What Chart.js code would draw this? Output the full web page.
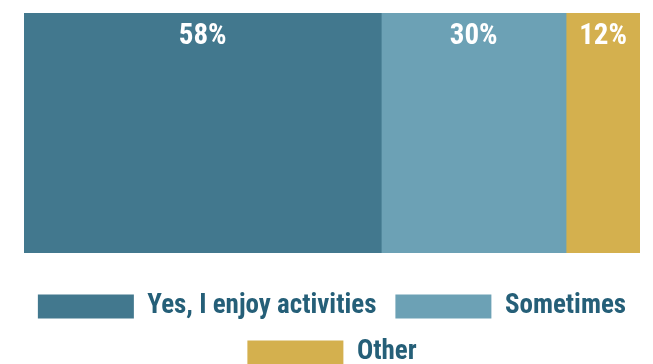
<!DOCTYPE html>
<html>
<head>
<meta charset="utf-8">
<script src="https://cdn.jsdelivr.net/npm/chart.js@4"></script>
<style>
  html, body { margin: 0; padding: 0; background: #fff; }
  #wrap { width: 653px; height: 364px; }
</style>
</head>
<body>
<div id="wrap"><canvas id="enjoyChart"></canvas></div>
<script>
// survey answers, share of respondents in percent
const categories = ['Responses'];
const answers = ['Yes, I enjoy activities', 'Sometimes', 'Other'];
const shares = [58, 30, 12];
const colors = ['#42788e', '#6ca1b5', '#d4b04e'];

const FONT = "'Roboto Condensed', Roboto, sans-serif";

// blank axis that only reserves some room
const spacer = (size, extra) => Object.assign({
    grid: { display: false },
    border: { display: false },
    ticks: { display: false },
    afterFit(scale) {
        if (scale.isHorizontal()) scale.height = size;
        else scale.width = size;
    }
}, extra);

// writes the percentage at the top of each segment
const valueLabels = {
    id: 'valueLabels',
    afterDatasetsDraw(chart) {
        const ctx = chart.ctx;
        ctx.save();
        ctx.fillStyle = '#ffffff';
        ctx.font = `bold 29px ${FONT}`;
        ctx.textAlign = 'center';
        ctx.textBaseline = 'middle';
        chart.data.datasets.forEach((ds, i) => {
            const bar = chart.getDatasetMeta(i).data[0];
            const { x, base } = bar.getProps(['x', 'base'], true);
            ctx.fillText(ds.data[0] + '%', (x + base) / 2, chart.chartArea.top + 24);
        });
        ctx.restore();
    }
};

const ctx = document.getElementById('enjoyChart').getContext('2d');
new Chart(ctx, {
    type: 'bar',
    data: {
        labels: categories,
        datasets: answers.map((name, i) => ({
            label: name,
            data: [shares[i]],
            backgroundColor: colors[i],
            borderWidth: 0,
            barPercentage: 1,
            categoryPercentage: 1
        }))
    },
    options: {
        indexAxis: 'y',
        responsive: true,
        maintainAspectRatio: false,
        animation: false,
        layout: { padding: { left: 14, right: 3, top: 13, bottom: -12 } },
        scales: {
            x: spacer(21, { stacked: true, min: 0, max: 100 }),
            y: spacer(10, { stacked: true }),
            yRight: spacer(10, { type: 'category', position: 'right' })
        },
        plugins: {
            tooltip: { enabled: false },
            legend: {
                position: 'bottom',
                labels: {
                    boxWidth: 96,
                    boxHeight: 24,
                    padding: 19,
                    color: '#255f78',
                    font: { family: FONT, size: 27, weight: 'bold' }
                }
            }
        }
    },
    plugins: [valueLabels]
});
</script>
</body>
</html>
